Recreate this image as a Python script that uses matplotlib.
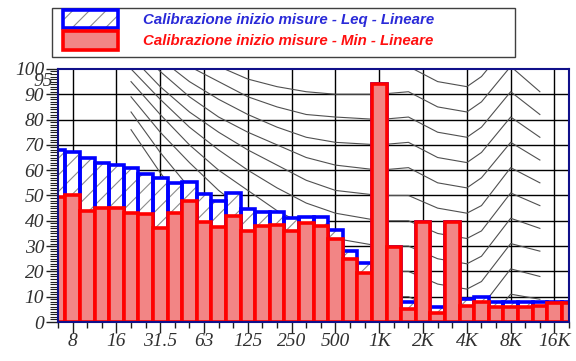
import matplotlib
matplotlib.use("Agg")
import matplotlib.pyplot as plt
from matplotlib.patches import Patch, Rectangle
from matplotlib.ticker import MultipleLocator
from matplotlib.legend_handler import HandlerTuple

# 1/3 octave bands shown on the x axis
bands = ["6.3", "8", "10", "12.5", "16", "20", "25", "31.5", "40", "50", "63", "80",
         "100", "125", "160", "200", "250", "315", "400", "500", "630", "800",
         "1K", "1.25K", "1.6K", "2K", "2.5K", "3.15K", "4K", "5K", "6.3K", "8K",
         "10K", "12.5K", "16K", "20K"]

leq = [68, 67, 65, 63, 62, 61, 58.5, 57, 55, 55.5, 50.5, 48,
       51, 44.5, 43.5, 43.5, 41, 41.5, 41.5, 36.5, 28, 23.5,
       94, 29.5, 8, 39.5, 6, 39.5, 9, 10, 8, 8,
       8, 8, 8, 8]
lmin = [49.5, 50, 44, 45, 45, 43, 42.5, 37, 43, 48, 39.5, 37.5,
        42, 36, 38, 38.5, 36, 39, 38, 33, 25, 19.5,
        94, 29.5, 5, 39.5, 3.5, 39.5, 6.5, 8, 6, 6,
        6, 6.5, 7.5, 7.5]

tick_labels = ["8", "16", "31.5", "63", "125", "250", "500", "1K", "2K", "4K", "8K", "16K"]

# equal loudness contours in the background (dB at these bands)
contour_bands = ["20", "31.5", "50", "80", "125", "200", "315", "500", "1K",
                 "1.6K", "2.5K", "4K", "5K", "8K", "12.5K"]
contours = [
    [76, 59, 44, 31, 21, 13, 7, 3, 1, 0, -4, -6, -3, 11, 9],
    [83, 67, 53, 41, 31, 23, 17, 13, 10, 10, 5, 3, 6, 21, 18],
    [89, 75, 63, 52, 43, 35, 28, 23, 20, 20, 15, 13, 16, 31, 28],
    [95, 82, 70, 60, 52, 44, 38, 33, 30, 30, 25, 23, 26, 41, 37],
    [100, 88, 77, 68, 60, 53, 47, 43, 40, 40, 35, 33, 36, 51, 46],
    [105, 93, 83, 75, 68, 62, 56, 52, 50, 50, 45, 43, 46, 61, 55],
    [110, 99, 89, 81, 75, 70, 65, 62, 60, 61, 55, 53, 57, 71, 64],
    [115, 104, 95, 88, 82, 77, 73, 71, 70, 71, 65, 63, 67, 81, 73],
    [120, 110, 101, 95, 89, 85, 82, 81, 80, 81, 75, 73, 77, 91, 82],
    [125, 115, 107, 101, 96, 93, 91, 90, 90, 91, 85, 83, 87, 101, 91],
    [130, 121, 113, 108, 104, 101, 100, 100, 100, 101, 95, 93, 97, 111, 100],
]

x = list(range(len(bands)))
frame = "#10108a"
hatch_grey = "#8c8c8c"
plt.rcParams["hatch.linewidth"] = 0.8
plt.rcParams["hatch.color"] = hatch_grey

fig = plt.figure(figsize=(5.76, 3.61), dpi=100)
ax = fig.add_axes([0.1007, 0.108, 0.8873, 0.701])

# grid
for lab in tick_labels:
    ax.axvline(bands.index(lab), color="black", lw=1.0, zorder=1)
for v in range(10, 100, 10):
    ax.axhline(v, color="black", lw=1.0, zorder=1)

cx = [bands.index(b) for b in contour_bands]
for c in contours:
    ax.plot(cx, c, color="#505050", lw=0.8, zorder=1.5)

ax.bar(x, leq, width=1.0, color="white", edgecolor=hatch_grey, hatch="//", lw=0, zorder=2)
ax.bar(x, leq, width=1.0, fill=False, edgecolor="#0000ff", lw=2.6, zorder=2.1)
ax.bar(x, lmin, width=1.0, color="#f28585", edgecolor="#ff0000", lw=2.6, zorder=3)

ax.set_xlim(0, len(bands) - 1)
ax.set_ylim(0, 100)

serif = {"family": "Liberation Serif", "style": "italic", "size": 14}
ax.set_xticks([bands.index(l) for l in tick_labels])
ax.set_xticklabels(tick_labels, fontdict=serif)
ax.set_xticks(x, minor=True)
ax.set_yticks(range(0, 101, 10))
ax.set_yticklabels([str(v) for v in range(0, 101, 10)], fontdict=serif, color="#303030")
ax.yaxis.set_minor_locator(MultipleLocator(1))
ax.text(-0.35, 95, "95", ha="right", va="center", fontdict=serif, color="#303030")
for lab in ax.get_xticklabels():
    lab.set_color("#303030")

ax.tick_params(axis="x", which="major", length=8, width=1, color="#202020", pad=0)
ax.tick_params(axis="x", which="minor", length=4, width=1, color="#202020")
ax.tick_params(axis="y", which="major", length=9, width=1, color="#202020", pad=1)
ax.tick_params(axis="y", which="minor", length=6, width=0.8, color="#202020")
for s in ax.spines.values():
    s.set_color(frame)
    s.set_linewidth(1.5)
    s.set_zorder(5)

# legend (frame drawn separately so it can be wider than its content)
h1 = (Patch(facecolor="white", edgecolor=hatch_grey, hatch="//", lw=0),
      Patch(fill=False, edgecolor="#0000ff", lw=2.6))
h2 = Patch(facecolor="#f28585", edgecolor="#ff0000", lw=2.6)
leg = fig.legend([h1, h2],
                 ["Calibrazione inizio misure - Leq - Lineare",
                  "Calibrazione inizio misure - Min - Lineare"],
                 handler_map={tuple: HandlerTuple(ndivide=1)},
                 loc="upper left", bbox_to_anchor=(63 / 576, 1 - 10 / 361),
                 frameon=False, borderpad=0, labelspacing=0.2,
                 handlelength=3.67, handleheight=1.5, handletextpad=1.67, borderaxespad=0,
                 prop={"family": "Liberation Sans", "style": "italic", "weight": "bold", "size": 10.8})
leg.get_texts()[0].set_color("#2a2ad8")
leg.get_texts()[1].set_color("#ff1010")
fig.patches.append(Rectangle((52 / 576, 1 - 57 / 361), 463 / 576, 49 / 361,
                             transform=fig.transFigure, fill=False,
                             edgecolor="#404040", lw=1.0))

fig.savefig("out.png", dpi=100)
